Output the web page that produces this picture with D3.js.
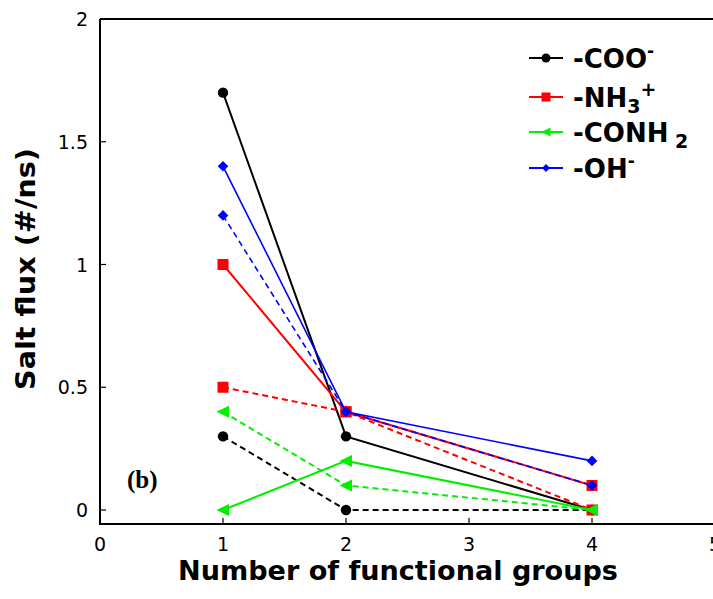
<!DOCTYPE html>
<html>
<head>
<meta charset="utf-8">
<script src="https://cdn.jsdelivr.net/npm/d3@7"></script>
<style>
  html, body { margin: 0; padding: 0; background: #fff; }
  svg { display: block; }
</style>
</head>
<body>
<svg id="chart" width="713" height="599"></svg>
<script>
// Number of functional groups on the x axis
const groups = [1, 2, 4];

// Salt flux (#/ns) per functional group; solid and dashed series
const cooSolid   = [1.7, 0.3, 0.0];
const cooDashed  = [0.3, 0.0, 0.0];
const nh3Solid   = [1.0, 0.4, 0.1];
const nh3Dashed  = [0.5, 0.4, 0.0];
const conh2Solid = [0.0, 0.2, 0.0];
const conh2Dashed= [0.4, 0.1, 0.0];
const ohSolid    = [1.4, 0.4, 0.2];
const ohDashed   = [1.2, 0.4, 0.1];

const xTicks = [0, 1, 2, 3, 4, 5];
const yTicks = [0, 0.5, 1, 1.5, 2];

const series = [
  { name: "coo",   color: "#000000", marker: "circle",   solid: cooSolid,   dashed: cooDashed,   width: 2 },
  { name: "nh3",   color: "#ff0000", marker: "square",   solid: nh3Solid,   dashed: nh3Dashed,   width: 2 },
  { name: "conh2", color: "#00f000", marker: "triangle", solid: conh2Solid, dashed: conh2Dashed, width: 2 },
  { name: "oh",    color: "#0000ff", marker: "diamond",  solid: ohSolid,    dashed: ohDashed,    width: 1.6 }
];

const svg = d3.select("#chart");

const x = d3.scaleLinear().domain([0, 5]).range([100, 715]);
const y = d3.scaleLinear().domain([0, 2]).range([510, 19]);
const yBottom = 524;

// Frame
svg.append("path")
  .attr("d", `M${x(0)},${y(2)} H 720 M${x(0)},${y(2)} V ${yBottom} H 720`)
  .attr("fill", "none").attr("stroke", "#000").attr("stroke-width", 2);

// Ticks pointing inward
svg.append("g").selectAll("line").data(xTicks).join("line")
  .attr("x1", d => x(d)).attr("x2", d => x(d))
  .attr("y1", yBottom).attr("y2", yBottom - 6)
  .attr("stroke", "#000").attr("stroke-width", 1.2);
svg.append("g").selectAll("line").data(yTicks).join("line")
  .attr("x1", x(0)).attr("x2", x(0) + 6)
  .attr("y1", d => y(d)).attr("y2", d => y(d))
  .attr("stroke", "#000").attr("stroke-width", 1.2);

const tickFont = "DejaVu Sans, Verdana, sans-serif";
svg.append("g").selectAll("text").data(xTicks).join("text")
  .attr("x", d => x(d)).attr("y", 551)
  .attr("text-anchor", "middle")
  .attr("font-family", tickFont).attr("font-size", 19)
  .text(d => d);
svg.append("g").selectAll("text").data(yTicks).join("text")
  .attr("x", 88).attr("y", d => y(d) + 7)
  .attr("text-anchor", "end")
  .attr("font-family", tickFont).attr("font-size", 19)
  .text(d => d);

// Axis titles
svg.append("text")
  .attr("x", 398).attr("y", 580)
  .attr("text-anchor", "middle")
  .attr("font-family", tickFont).attr("font-weight", "bold").attr("font-size", 26)
  .attr("textLength", 440).attr("lengthAdjust", "spacingAndGlyphs")
  .text("Number of functional groups");
svg.append("text")
  .attr("transform", "translate(35,269) rotate(-90)")
  .attr("text-anchor", "middle")
  .attr("font-family", tickFont).attr("font-weight", "bold").attr("font-size", 26)
  .attr("textLength", 242).attr("lengthAdjust", "spacingAndGlyphs")
  .text("Salt flux (#/ns)");

// Panel label
svg.append("text")
  .attr("x", 127).attr("y", 488)
  .attr("font-family", "Liberation Serif, Times New Roman, serif")
  .attr("font-weight", "bold").attr("font-size", 25)
  .text("(b)");

// Marker shapes
function markerPath(type, s) {
  switch (type) {
    case "circle":
      return `M${-s},0 A${s},${s} 0 1,0 ${s},0 A${s},${s} 0 1,0 ${-s},0 Z`;
    case "square":
      return `M${-s},${-s} H${s} V${s} H${-s} Z`;
    case "triangle":
      return `M${-s * 1.1},0 L${s},${-s} L${s},${s} Z`;
    case "diamond":
      return `M0,${-s} L${s},0 L0,${s} L${-s},0 Z`;
  }
}
const markerSize = { circle: 5.2, square: 5.5, triangle: 6, diamond: 5.3 };

const line = d3.line().x(d => x(d[0])).y(d => y(d[1]));

const plot = svg.append("g");
series.forEach(s => {
  [["dashed", "6,4"], ["solid", null]].forEach(([key, dash]) => {
    const pts = groups.map((g, i) => [g, s[key][i]]);
    plot.append("path")
      .attr("d", line(pts))
      .attr("fill", "none")
      .attr("stroke", s.color)
      .attr("stroke-width", s.width)
      .attr("stroke-dasharray", dash);
    plot.append("g").selectAll("path").data(pts).join("path")
      .attr("transform", d => `translate(${x(d[0])},${y(d[1])})`)
      .attr("d", markerPath(s.marker, markerSize[s.marker]))
      .attr("fill", s.color);
  });
});

// Legend
const legendRows = [
  { color: "#000000", marker: "circle",   parts: [["-COO", ""], ["-", "sup"]] },
  { color: "#ff0000", marker: "square",   parts: [["-NH", ""], ["3", "sub"], ["+", "sup2"]] },
  { color: "#00f000", marker: "triangle", parts: [["-CONH", ""], [" 2", "sub"]] },
  { color: "#0000ff", marker: "diamond",  parts: [["-OH", ""], ["-", "sup"]] }
];
const legendY = [58, 97, 132, 168];
const leg = svg.append("g");
legendRows.forEach((r, i) => {
  const ly = legendY[i];
  leg.append("line")
    .attr("x1", 529).attr("x2", 563).attr("y1", ly).attr("y2", ly)
    .attr("stroke", r.color).attr("stroke-width", 2);
  leg.append("path")
    .attr("transform", `translate(546,${ly})`)
    .attr("d", markerPath(r.marker, r.marker === "diamond" ? 4 : 4.5))
    .attr("fill", r.color);
  const t = leg.append("text")
    .attr("x", 573).attr("y", ly + 10)
    .attr("font-family", tickFont).attr("font-weight", "bold").attr("font-size", 26);
  r.parts.forEach(([txt, kind]) => {
    const ts = t.append("tspan").text(txt);
    if (kind === "sup") ts.attr("font-size", 17).attr("dy", -11);
    if (kind === "sub") ts.attr("font-size", 19).attr("dy", 6);
    if (kind === "sup2") ts.attr("font-size", 19).attr("dy", -17);
  });
});
</script>
</body>
</html>
